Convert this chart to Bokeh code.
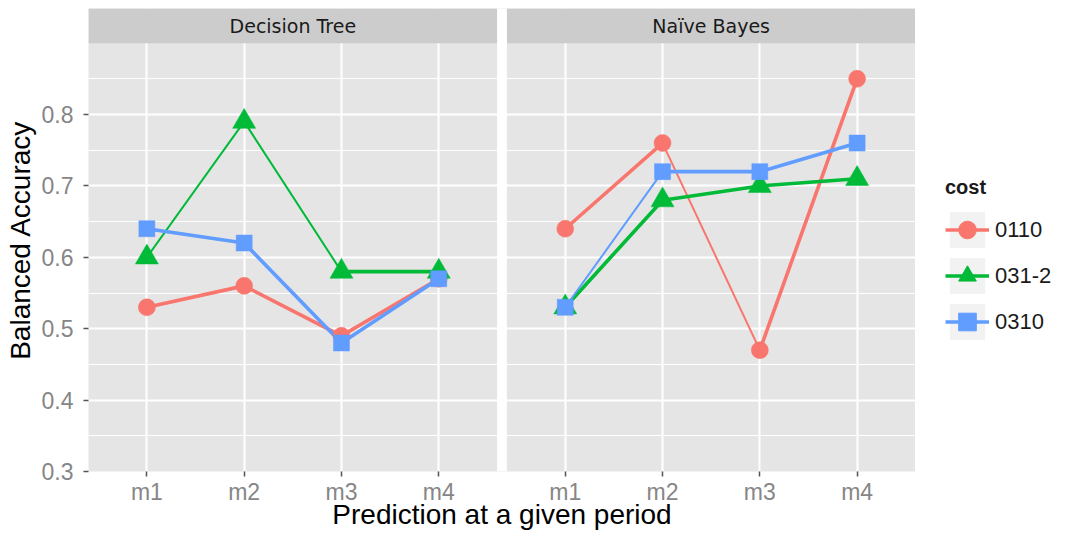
from bokeh.plotting import figure
from bokeh.layouts import row
from bokeh.models import (ColumnDataSource, FixedTicker, BoxAnnotation, Label,
                          Legend, LegendItem, Range1d)
from bokeh.embed import file_html
from bokeh.resources import INLINE

# ---- data ----
periods = ["m1", "m2", "m3", "m4"]
models = ["Decision Tree", "Naïve Bayes"]
costs = ["0110", "031-2", "0310"]

dt_0110 = [0.53, 0.56, 0.49, 0.57]
dt_0312 = [0.60, 0.79, 0.58, 0.58]
dt_0310 = [0.64, 0.62, 0.48, 0.57]

nb_0110 = [0.64, 0.76, 0.47, 0.85]
nb_0312 = [0.53, 0.68, 0.70, 0.71]
nb_0310 = [0.53, 0.72, 0.72, 0.76]

y_ticks = [0.3, 0.4, 0.5, 0.6, 0.7, 0.8]
y_minor = [0.35, 0.45, 0.55, 0.65, 0.75, 0.85]

# ---- styles ----
colors = {"0110": "#F8766D", "031-2": "#00BA38", "0310": "#619CFF"}
markers = {"0110": "circle", "031-2": "triangle", "0310": "square"}
msize = {"0110": 17, "031-2": 23, "0310": 16}
THICK, THIN = 3.6, 2.0
seg_w = {
    ("Decision Tree", "0110"): [THICK, THICK, THICK],
    ("Decision Tree", "031-2"): [THIN, THIN, THICK],
    ("Decision Tree", "0310"): [THICK, THICK, THICK],
    ("Naïve Bayes", "0110"): [THICK, THIN, THICK],
    ("Naïve Bayes", "031-2"): [THICK, THICK, THICK],
    ("Naïve Bayes", "0310"): [THIN, THICK, THICK],
}
values = {
    ("Decision Tree", "0110"): dt_0110,
    ("Decision Tree", "031-2"): dt_0312,
    ("Decision Tree", "0310"): dt_0310,
    ("Naïve Bayes", "0110"): nb_0110,
    ("Naïve Bayes", "031-2"): nb_0312,
    ("Naïve Bayes", "0310"): nb_0310,
}

# facet geometry (x units: 10 per category; panel 4..46, gap 1, panel 47..89)
UNIT = 10
PANEL_W = UNIT * (len(periods) + 0.2)
GAP = 1
OFFSET = PANEL_W + GAP
x_lo = UNIT * 0.4
y_lo, y_hi = 0.3, 0.9
y_top = y_hi + 0.0485
x_hi = x_lo + 2 * PANEL_W + GAP

def xpos(panel_idx, i):
    return UNIT * (i + 1) + int(OFFSET) * panel_idx

FONT = "Liberation Sans"
H = 532

p = figure(width=915, height=H, x_range=Range1d(x_lo, x_hi),
           y_range=Range1d(y_lo, y_top), output_backend="svg",
           toolbar_location=None, min_border_left=88, min_border_right=0,
           min_border_top=8, min_border_bottom=56)
p.background_fill_color = "#E5E5E5"
p.border_fill_color = "white"
p.outline_line_color = None

x_ticks = [xpos(k, i) for k in range(len(models)) for i in range(len(periods))]
overrides = {xpos(k, i): periods[i] for k in range(len(models)) for i in range(len(periods))}
p.xaxis.ticker = FixedTicker(ticks=x_ticks)
p.xaxis.major_label_overrides = overrides
p.yaxis.ticker = FixedTicker(ticks=y_ticks, minor_ticks=y_minor)

for ax in (p.xaxis, p.yaxis):
    ax.axis_line_color = None
    ax.major_tick_in = 0
    ax.major_tick_out = 5
    ax.major_tick_line_color = "#555555"
    ax.major_tick_line_width = 1.5
    ax.minor_tick_line_color = None
    ax.major_label_text_font = FONT
    ax.major_label_text_font_size = "23px"
    ax.major_label_text_color = "#868686"
    ax.axis_label_text_font = FONT
    ax.axis_label_text_font_size = "28px"
    ax.axis_label_text_font_style = "normal"
    ax.axis_label_text_color = "#000000"

p.xaxis.axis_label = "Prediction at a given period"
p.yaxis.axis_label = "Balanced Accuracy"
p.xaxis.major_label_standoff = 2
p.xaxis.axis_label_standoff = -9
p.yaxis.major_label_standoff = 10
p.yaxis.axis_label_standoff = 3

p.xgrid.grid_line_color = "white"
p.xgrid.grid_line_width = 2
p.ygrid.grid_line_color = "white"
p.ygrid.grid_line_width = 2
p.ygrid.minor_grid_line_color = "white"
p.ygrid.minor_grid_line_width = 1

# ---- data sources ----
seg_sources, pt_sources = {}, {}
for k, m in enumerate(models):
    for c in costs:
        vals = values[(m, c)]
        xs = [xpos(k, i) for i in range(len(periods))]
        seg_sources[(m, c)] = ColumnDataSource(dict(
            x0=xs[:-1], x1=xs[1:], y0=vals[:-1], y1=vals[1:], w=seg_w[(m, c)]))
        pt_sources[(m, c)] = ColumnDataSource(dict(x=xs, y=vals, period=periods))

# ---- marks ----
for c in costs:
    for m in models:
        p.segment(x0="x0", y0="y0", x1="x1", y1="y1", line_width="w",
                  line_color=colors[c], line_cap="round", source=seg_sources[(m, c)])

for c in costs:
    for m in models:
        p.scatter(x="x", y="y", marker=markers[c], size=msize[c],
                  fill_color=colors[c], line_color=colors[c], line_width=0.5,
                  source=pt_sources[(m, c)])

# ---- facet strips and gap ----
for k, m in enumerate(models):
    left = x_lo + k * OFFSET
    p.add_layout(BoxAnnotation(left=left, right=left + PANEL_W, bottom=y_hi, top=y_top,
                               fill_color="#CCCCCC", fill_alpha=1, line_color=None))
    p.add_layout(Label(x=left + PANEL_W / 2, y=(y_hi + y_top) / 2, text=m,
                       text_align="center", text_baseline="middle",
                       text_font="DejaVu Sans", text_font_size="19px",
                       text_color="#1A1A1A"))
p.add_layout(BoxAnnotation(left=x_lo + PANEL_W, right=x_lo + OFFSET, bottom=y_lo, top=y_top,
                           fill_color="white", fill_alpha=1, line_color=None))

# ---- legend (separate panel to the right) ----
LW = 1052 - 915
pl = figure(width=LW, height=H, x_range=Range1d(1000, 1001), y_range=Range1d(y_lo, y_top),
            output_backend="svg", toolbar_location=None,
            min_border_left=0, min_border_right=0, min_border_top=0, min_border_bottom=0,
            x_axis_location=None, y_axis_location=None)
pl.grid.visible = False
pl.outline_line_color = None
pl.background_fill_color = "white"
pl.border_fill_color = "white"

legend_line_panel = {"0110": "Decision Tree", "031-2": "Naïve Bayes", "0310": "Decision Tree"}
items = []
for c in costs:
    src_pts = pt_sources[("Decision Tree", c)]
    kb = pl.quad(left="x", right="x", top="y", bottom="y", source=src_pts,
                 fill_color="#F2F2F2", line_color=None)
    ln = pl.segment(x0="x0", y0="y0", x1="x1", y1="y1", line_width="w",
                    line_color=colors[c], source=seg_sources[(legend_line_panel[c], c)])
    mk = pl.scatter(x="x", y="y", marker=markers[c], size=msize[c],
                    fill_color=colors[c], line_color=colors[c], source=src_pts)
    items.append(LegendItem(label=c, index=0, renderers=[kb, ln, mk]))

legend = Legend(items=items, location=(30, 127), title="cost",
                title_text_font=FONT, title_text_font_style="bold",
                title_text_font_size="20px", title_text_color="#1A1A1A",
                title_standoff=8,
                label_text_font=FONT, label_text_font_size="22px",
                label_text_color="#1A1A1A", label_standoff=6,
                glyph_width=44, glyph_height=45, spacing=1, padding=0, margin=0,
                border_line_color=None, background_fill_alpha=0)
pl.add_layout(legend)

layout = row(p, pl, spacing=0)
open("out.html", "w").write(file_html(layout, INLINE))
